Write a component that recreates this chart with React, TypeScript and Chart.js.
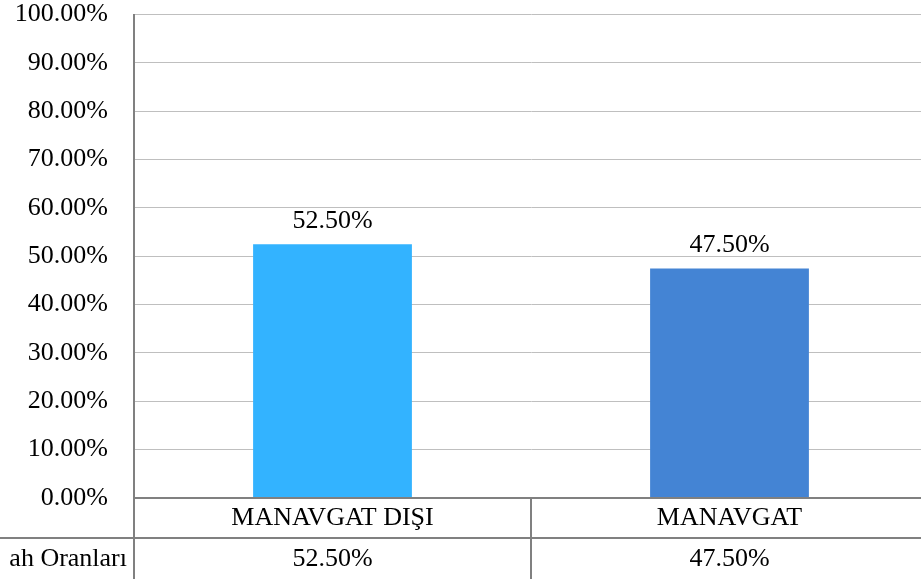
import React, { useEffect, useRef } from "react";
import { Chart, registerables } from "chart.js";

Chart.register(...registerables);

const categories = ["MANAVGAT DIŞI", "MANAVGAT"];
const values = [52.5, 47.5];
const valueLabels = ["52.50%", "47.50%"];
const rowLabel = "ah Oranları";
const barColors = ["#33B3FF", "#4484D4"];
const yMin = 0;
const yMax = 100;
const yStep = 10;

const SERIF = "'Liberation Serif', 'Times New Roman', serif";

const tablePlugin = {
  id: "tablePlugin",
  afterDraw(chart: any) {
    const { ctx, chartArea } = chart;
    const xs = chart.scales.x;
    const H = chart.height;
    const W = chart.width;
    const bottom = chartArea.bottom;
    const rowH = 40;
    ctx.save();
    ctx.strokeStyle = "#808080";
    ctx.lineWidth = 2;
    // 0% baseline
    ctx.beginPath();
    ctx.moveTo(chartArea.left, bottom);
    ctx.lineTo(W, bottom);
    ctx.stroke();
    // row separator
    ctx.beginPath();
    ctx.moveTo(0, bottom + rowH);
    ctx.lineTo(W, bottom + rowH);
    ctx.stroke();
    // left vertical
    ctx.beginPath();
    ctx.moveTo(chartArea.left, chartArea.top);
    ctx.lineTo(chartArea.left, H);
    ctx.stroke();
    // dividers between categories
    for (let i = 0; i < categories.length - 1; i++) {
      const xm = (xs.getPixelForValue(i) + xs.getPixelForValue(i + 1)) / 2;
      ctx.beginPath();
      ctx.moveTo(xm, bottom);
      ctx.lineTo(xm, H);
      ctx.stroke();
    }
    ctx.fillStyle = "#000";
    ctx.font = `26px ${SERIF}`;
    ctx.textBaseline = "middle";
    ctx.textAlign = "center";
    categories.forEach((c, i) => {
      const x = xs.getPixelForValue(i);
      ctx.fillText(c, x, bottom + rowH / 2);
      ctx.fillText(valueLabels[i], x, bottom + rowH + 21);
    });
    ctx.textAlign = "right";
    ctx.fillText(rowLabel, chartArea.left - 7, bottom + rowH + 21);

    // data labels above bars
    const meta = chart.getDatasetMeta(0);
    ctx.textAlign = "center";
    meta.data.forEach((bar: any, i: number) => {
      ctx.fillText(valueLabels[i], bar.x, bar.y - 23);
    });
    ctx.restore();
  },
};

export default function App() {
  const ref = useRef<HTMLCanvasElement | null>(null);
  useEffect(() => {
    document.body.style.margin = "0";
    document.body.style.overflow = "hidden";
    const chart = new Chart(ref.current!, {
      type: "bar",
      data: {
        labels: categories,
        datasets: [
          {
            data: values,
            backgroundColor: barColors,
            barPercentage: 0.4,
            categoryPercentage: 1,
          },
        ],
      },
      options: {
        animation: false,
        responsive: false,
        maintainAspectRatio: false,
        layout: { padding: 0 },
        plugins: { legend: { display: false }, tooltip: { enabled: false } },
        scales: {
          x: {
            ticks: { display: false },
            grid: { display: false },
            border: { display: false },
            afterFit: (s: any) => {
              s.height = 81;
            },
          },
          y: {
            min: yMin,
            max: yMax,
            ticks: {
              stepSize: yStep,
              padding: 26,
              color: "#000",
              font: { family: SERIF, size: 26, lineHeight: 1.12 },
              callback: (v: any) => Number(v).toFixed(2) + "%",
            },
            grid: {
              drawTicks: false,
              color: "#BFBFBF",
              lineWidth: 1,
            },
            border: { display: true, color: "#808080", width: 2 },
            afterFit: (s: any) => {
              s.width = 134;
              s.paddingTop = 14.6;
              s.paddingBottom = 0;
            },
          },
        },
      },
      plugins: [tablePlugin],
    });
    return () => chart.destroy();
  }, []);
  return (
    <div style={{ position: "fixed", left: 0, top: 0, width: 928, height: 579 }}>
      <canvas ref={ref} width={928} height={579} style={{ width: 928, height: 579, display: "block" }} />
    </div>
  );
}
